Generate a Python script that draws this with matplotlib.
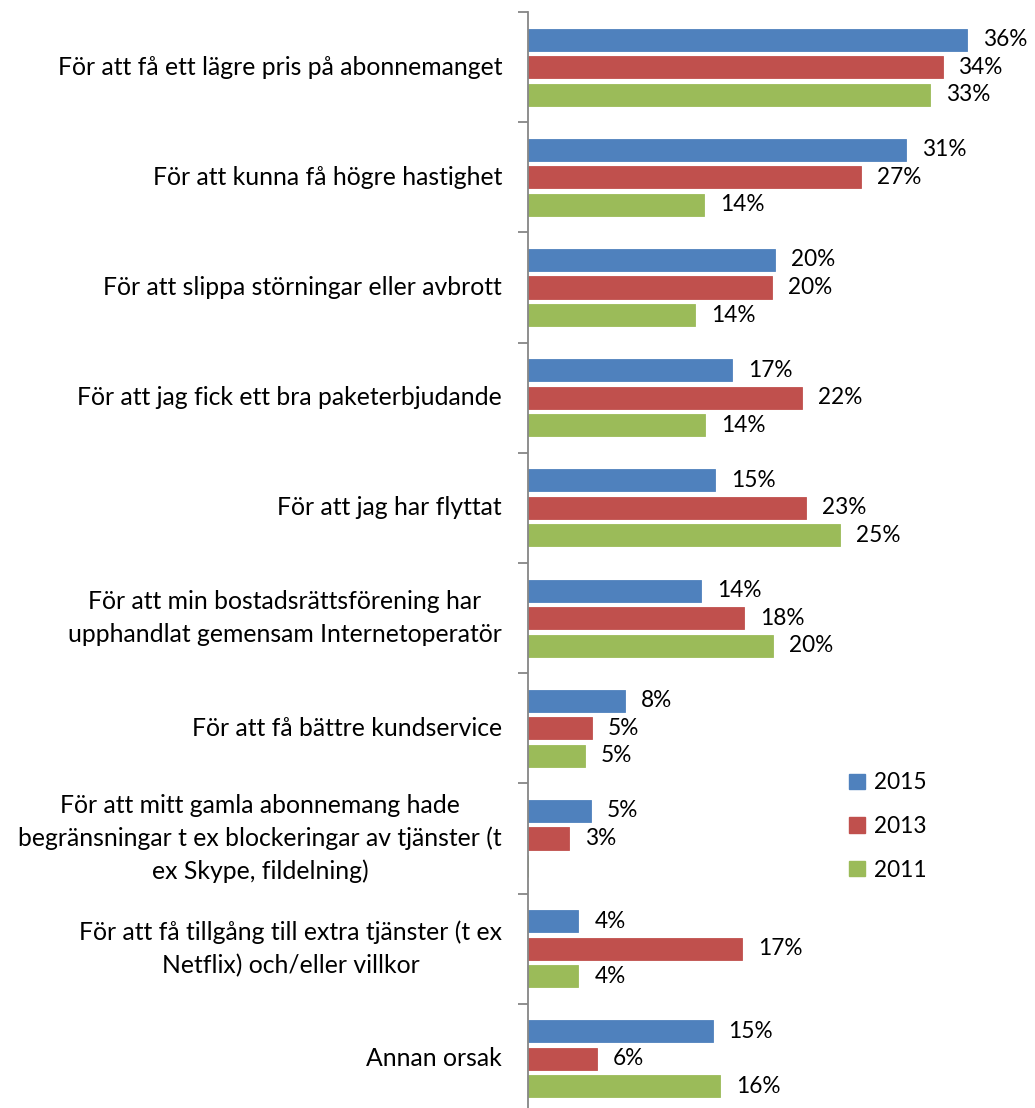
import numpy as np
import matplotlib
matplotlib.use("Agg")
import matplotlib.pyplot as plt
import matplotlib.patches as mpatches
import matplotlib.transforms as mtransforms

plt.rcParams['font.family'] = ['Lato', 'DejaVu Sans']

categories = [
    "För att få ett lägre pris på abonnemanget",
    "För att kunna få högre hastighet",
    "För att slippa störningar eller avbrott",
    "För att jag fick ett bra paketerbjudande",
    "För att jag har flyttat",
    "För att min bostadsrättsförening har\nupphandlat gemensam Internetoperatör",
    "För att få bättre kundservice",
    "För att mitt gamla abonnemang hade\nbegränsningar t ex blockeringar av tjänster (t\nex Skype, fildelning)",
    "För att få tillgång till extra tjänster (t ex\nNetflix) och/eller villkor",
    "Annan orsak",
]
years = ["2015", "2013", "2011"]
values_2015 = [35.7, 30.7, 20.1, 16.6, 15.2, 14.1, 7.9, 5.1, 4.1, 15.0]
values_2013 = [33.7, 27.1, 19.8, 22.3, 22.6, 17.6, 5.2, 3.3, 17.4, 5.6]
values_2011 = [32.7, 14.3, 13.6, 14.4, 25.4, 19.9, 4.6, np.nan, 4.1, 15.6]
colors = ["#4F81BD", "#C0504D", "#9BBB59"]

fig = plt.figure(figsize=(10.35, 11.08), dpi=100)
ax = fig.add_axes([528 / 1035, -6 / 1108, 492 / 1035, 1102 / 1108])

y = np.arange(len(categories))
offsets = [-0.25, 0, 0.25]
series = [values_2015, values_2013, values_2011]
cat_fs = 17.8
num_fs = 16.3

for vals, off, col, yr in zip(series, offsets, colors, years):
    vals = np.array(vals, dtype=float)
    ax.barh(y + off, np.nan_to_num(vals), height=0.2, color=col, label=yr,
            edgecolor=col, linewidth=0.6)
    for yi, v in zip(y, vals):
        if np.isnan(v):
            continue
        ax.annotate(f"{v:.0f}%", (v, yi + off), xytext=(16, 0),
                    textcoords="offset pixels",
                    ha="left", va="center", fontsize=num_fs, color="black")

ax.set_xlim(0, 40)
ax.set_ylim(len(categories) - 0.5, -0.5)

for s in ["top", "right", "bottom"]:
    ax.spines[s].set_visible(False)
ax.spines["left"].set_color("#868686")
ax.spines["left"].set_linewidth(1.3)
ax.set_xticks([])
ax.set_yticks(np.arange(-0.5, len(categories), 1.0))
ax.set_yticklabels([])
ax.tick_params(axis="y", length=7, width=1.3, color="#868686", direction="out")

trans = mtransforms.blended_transform_factory(fig.transFigure, ax.transData)
for yi, cat in zip(y, categories):
    ax.text(502 / 1035, yi, cat, transform=trans, ha="right", va="center",
            multialignment="center", fontsize=cat_fs, linespacing=1.5)

handles = [mpatches.Patch(color=c, label=yr) for c, yr in zip(colors, years)]
fig.legend(handles=handles, loc="upper left", bbox_to_anchor=(829 / 1035, 1 - 752 / 1108),
           frameon=False, fontsize=num_fs, handlelength=0.68, handleheight=0.68,
           handletextpad=0.4, labelspacing=1.0)

fig.savefig("out.png", dpi=100)
